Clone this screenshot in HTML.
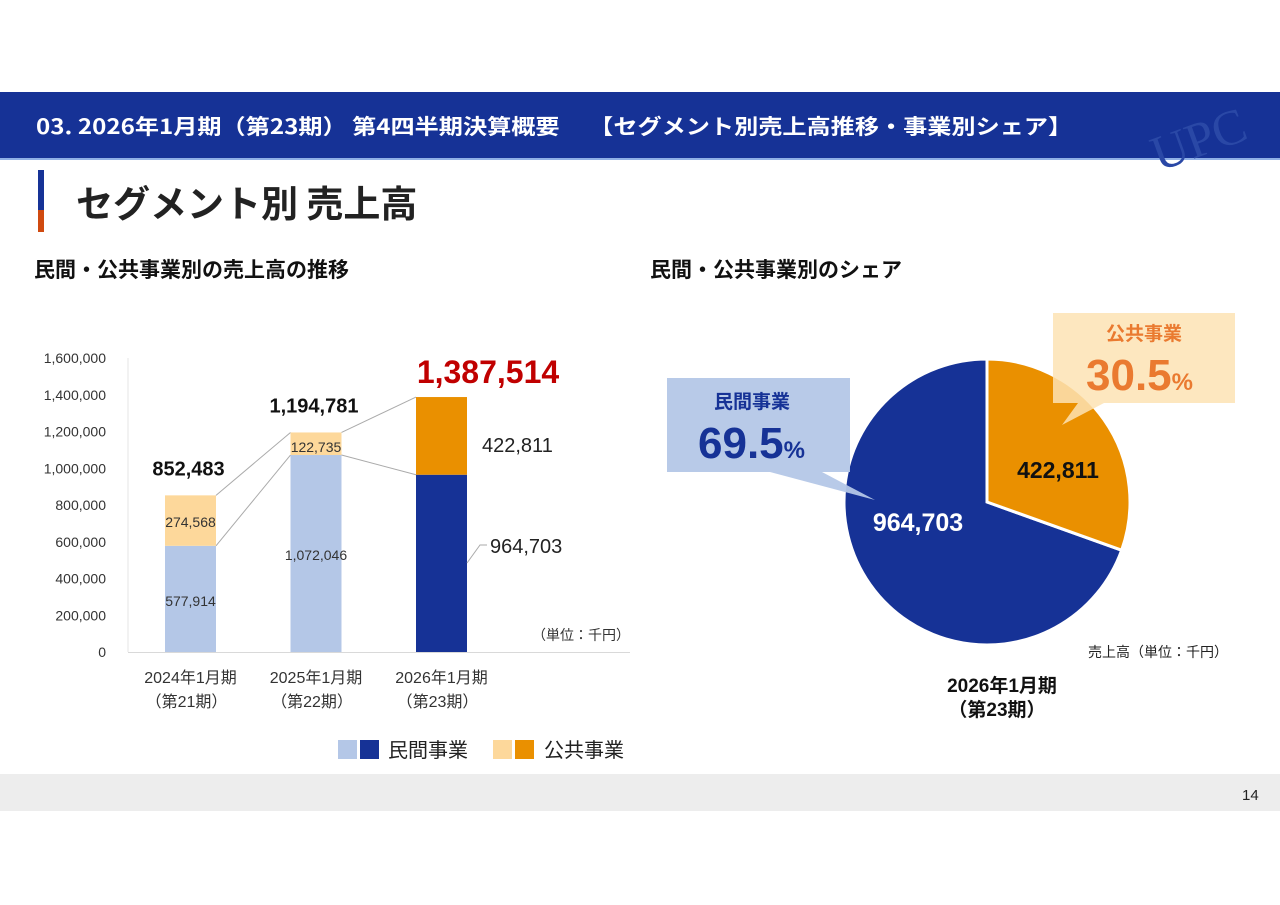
<!DOCTYPE html>
<html><head><meta charset="utf-8"><style>
body{margin:0;width:1280px;height:905px;background:#fff;font-family:"Liberation Sans","Noto Sans CJK JP",sans-serif;position:relative;overflow:hidden}
.abs{position:absolute}
</style></head><body>
<div class="abs" style="left:0;top:92px;width:1280px;height:66px;background:#163296;border-bottom:2px solid #8fb0e6"></div>
<div class="abs" style="left:36px;top:111px;color:#fff;font-size:21px;font-weight:bold;white-space:nowrap;font-family:'Noto Sans CJK JP',sans-serif;transform:scaleX(1.15);transform-origin:left">03. 2026年1月期（第23期） 第4四半期決算概要　 【セグメント別売上高推移・事業別シェア】</div>
<div class="abs" style="left:1150px;top:110px;color:#2a48a6;font-size:50px;font-family:'Liberation Serif',serif;transform:rotate(-20deg)">UPC</div>
<div class="abs" style="left:38px;top:170px;width:6px;height:40px;background:#163296"></div>
<div class="abs" style="left:38px;top:210px;width:6px;height:22px;background:#d04a10"></div>
<div class="abs" style="left:76px;top:176px;font-size:37px;font-weight:bold;color:#222;font-family:'Noto Sans CJK JP',sans-serif;line-height:50px">セグメント別 売上高</div>
<div class="abs" style="left:34px;top:254px;font-size:21px;font-weight:bold;color:#111;font-family:'Noto Sans CJK JP',sans-serif">民間・公共事業別の売上高の推移</div>
<div class="abs" style="left:650px;top:254px;font-size:21px;font-weight:bold;color:#111;font-family:'Noto Sans CJK JP',sans-serif">民間・公共事業別のシェア</div>
<svg id="bar" class="abs" style="left:0;top:0" width="1280" height="905"></svg>
<div class="abs" style="left:0;top:774px;width:1280px;height:37px;background:#ededed"></div>
<div class="abs" style="left:1242px;top:787px;font-size:15px;color:#222">14</div>
<script>
const categories=["2024年1月期","2025年1月期","2026年1月期"];
const periods=["（第21期）","（第22期）","（第23期）"];
const privateVals=[577914,1072046,964703];
const publicVals=[274568,122735,422811];
const totals=[852483,1194781,1387514];
const yTicks=[0,200000,400000,600000,800000,1000000,1200000,1400000,1600000];
const pieVals=[422811,964703];
const pieShares=["30.5","69.5"];
const NS="http://www.w3.org/2000/svg";
const svg=document.getElementById('bar');
function mk(t,a,p){const e=document.createElementNS(NS,t);for(const k in a)e.setAttribute(k,a[k]);(p||svg).appendChild(e);return e}
function txt(s,a){const e=mk('text',a);e.textContent=s;return e}
const y=v=>652-v*(294/1600000);
const xc=i=>190.5+i*125.5;
const bw=51;
const F="'Liberation Sans','Noto Sans CJK JP',sans-serif";
const fmt=v=>v.toLocaleString('en-US');
yTicks.forEach(t=>{const e=txt(fmt(t),{x:106,y:y(t)+5,'text-anchor':'end','font-size':14,fill:'#333','font-family':F});});
let ax=mk('line',{x1:128,y1:358,x2:128,y2:652,stroke:'#e4e4e4'});
ax=mk('line',{x1:128,y1:652.5,x2:630,y2:652.5,stroke:'#d9d9d9'});
const pc=['#b4c7e7','#b4c7e7','#163296'],uc=['#fdd89b','#fdd89b','#ea9000'];
for(let i=0;i<2;i++){
 [[totals[i],totals[i+1]],[privateVals[i],privateVals[i+1]]].forEach(p=>{const l=mk('line',{x1:xc(i)+bw/2,y1:y(p[0]),x2:xc(i+1)-bw/2,y2:y(p[1]),stroke:'#aaa','stroke-width':1});});
}
categories.forEach((c,i)=>{
 let r=mk('rect',{x:xc(i)-bw/2,y:y(privateVals[i]),width:bw,height:y(0)-y(privateVals[i]),fill:pc[i]});
 
 r=mk('rect',{x:xc(i)-bw/2,y:y(totals[i]),width:bw,height:y(privateVals[i])-y(totals[i]),fill:uc[i]});
 
 let t=txt(c,{x:xc(i),y:683,'text-anchor':'middle','font-size':16,fill:'#333','font-family':F});
 t=txt(periods[i],{x:xc(i)-4,y:707,'text-anchor':'middle','font-size':16,fill:'#333','font-family':F});
 if(i<2){
  t=txt(fmt(privateVals[i]),{x:xc(i),y:i==0?606:560,'text-anchor':'middle','font-size':14,fill:'#333','font-family':F});
  t=txt(fmt(publicVals[i]),{x:xc(i),y:i==0?527:452,'text-anchor':'middle','font-size':14,fill:'#333','font-family':F});
  t=txt(fmt(totals[i]),{x:xc(i)-2,y:y(totals[i])-20,'text-anchor':'middle','font-size':20,'font-weight':'bold',fill:'#111','font-family':F});
 }else{
  t=txt(fmt(totals[i]),{x:488,y:383,'text-anchor':'middle','font-size':32,'font-weight':'bold',fill:'#c00000','font-family':F});
  t=txt(fmt(publicVals[i]),{x:482,y:452,'font-size':20,fill:'#222','font-family':F});
  t=txt(fmt(privateVals[i]),{x:490,y:553,'font-size':20,fill:'#222','font-family':F});
  const l=mk('polyline',{points:`${xc(i)+bw/2},563 ${xc(i)+bw/2+13},545 ${xc(i)+bw/2+20},545`,fill:'none',stroke:'#aaa'});
 }
});
let u=txt('（単位：千円）',{x:532,y:640,'font-size':14,fill:'#333','font-family':F});
[['#b4c7e7',338],['#163296',360],['#fdd89b',493],['#ea9000',515]].forEach(a=>{const r=mk('rect',{x:a[1],y:740,width:19,height:19,fill:a[0]});});
u=txt('民間事業',{x:388,y:757,'font-size':20,fill:'#222','font-family':F});
u=txt('公共事業',{x:544,y:757,'font-size':20,fill:'#222','font-family':F});
const cx=987,cy=502,R=143,tot=pieVals[0]+pieVals[1];
const a1=pieVals[0]/tot*2*Math.PI;
const pt=a=>[cx+R*Math.sin(a),cy-R*Math.cos(a)];
let p1=pt(a1);
let s=mk('path',{d:`M${cx},${cy} L${cx},${cy-R} A${R},${R} 0 1 0 ${p1[0]},${p1[1]} Z`,fill:'#163296',stroke:'#fff','stroke-width':3});

s=mk('path',{d:`M${cx},${cy} L${cx},${cy-R} A${R},${R} 0 0 1 ${p1[0]},${p1[1]} Z`,fill:'#ea9000',stroke:'#fff','stroke-width':3});

u=txt(fmt(pieVals[0]),{x:1058,y:478,'text-anchor':'middle','font-size':23,'font-weight':'bold',fill:'#111','font-family':F});
u=txt(fmt(pieVals[1]),{x:918,y:531,'text-anchor':'middle','font-size':25,'font-weight':'bold',fill:'#fff','font-family':F});
s=mk('path',{d:'M667,378 H850 V472 H822 L875,500 L770,472 H667 Z',fill:'#b4c7e7',opacity:0.95});
u=txt('民間事業',{x:752,y:408,'text-anchor':'middle','font-size':19,'font-weight':'bold',fill:'#163296','font-family':F});
u=mk('text',{x:698,y:458,'font-size':44,'font-weight':'bold',fill:'#163296','font-family':F});
mk('tspan',{},u).textContent=pieShares[1];
mk('tspan',{'font-size':24},u).textContent='%';
s=mk('path',{d:'M1053,313 H1235 V403 H1104 L1062,425 L1078,403 H1053 Z',fill:'#fde3b4',opacity:0.85});
u=txt('公共事業',{x:1144,y:340,'text-anchor':'middle','font-size':19,'font-weight':'bold',fill:'#ea7a30','font-family':F});
u=mk('text',{x:1086,y:390,'font-size':44,'font-weight':'bold',fill:'#ea7a30','font-family':F});
mk('tspan',{},u).textContent=pieShares[0];
mk('tspan',{'font-size':24},u).textContent='%';
u=txt('売上高（単位：千円）',{x:1088,y:657,'font-size':14,fill:'#222','font-family':F});
u=txt('2026年1月期',{x:1002,y:692,'text-anchor':'middle','font-size':19,'font-weight':'bold',fill:'#111','font-family':F});
u=txt('（第23期）',{x:997,y:716,'text-anchor':'middle','font-size':19,'font-weight':'bold',fill:'#111','font-family':F});
</script>
</body></html>
